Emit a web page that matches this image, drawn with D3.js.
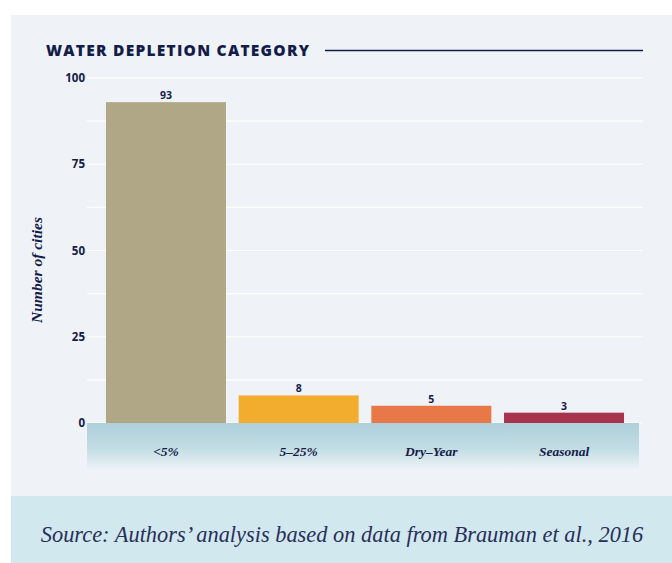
<!DOCTYPE html>
<html><head><meta charset="utf-8">
<script src="https://cdn.jsdelivr.net/npm/d3@7"></script>
<style>body{margin:0;background:#fff}svg{display:block}</style>
</head><body>
<svg id="c" width="672" height="563"></svg>
<script>
const categories = ["<5%", "5–25%", "Dry–Year", "Seasonal"];
const values = [93, 8, 5, 3];
const colors = ["#b0a786", "#f2ad2e", "#e97848", "#a8334d"];
const yTicks = [0, 25, 50, 75, 100];
const gridTicks = [0, 12.5, 25, 37.5, 50, 62.5, 75, 87.5, 100];
const titleText = "WATER DEPLETION CATEGORY";
const yTitle = "Number of cities";
const sourceText = "Source: Authors’ analysis based on data from Brauman et al., 2016";

const navy = "#141c48";
const svg = d3.select("#c");
svg.append("rect").attr("x", 11).attr("y", 15).attr("width", 661).attr("height", 481).attr("fill", "#eff3f7");
svg.append("rect").attr("x", 11).attr("y", 496).attr("width", 661).attr("height", 67).attr("fill", "#d1e9ee");

const y = d3.scaleLinear().domain([0, 100]).range([423, 78]);
const x = d3.scaleBand().domain(categories).range([93.3, 636.7]).padding(0.0955);

// gridlines
svg.append("g").selectAll("line").data(gridTicks).join("line")
  .attr("x1", 87).attr("x2", 643).attr("y1", d => y(d)).attr("y2", d => y(d))
  .attr("stroke", "#ffffff").attr("stroke-width", 1.2);

// title
svg.append("text").attr("x", 46).attr("y", 55.5)
  .attr("font-family", "'Open Sans', sans-serif").attr("font-weight", 800).attr("font-size", 15.5)
  .attr("letter-spacing", 1.25).attr("fill", navy).text(titleText);
svg.append("line").attr("x1", 325).attr("x2", 643).attr("y1", 50.5).attr("y2", 50.5)
  .attr("stroke", navy).attr("stroke-width", 1.5);

// x axis band with gradient
const defs = svg.append("defs");
const g = defs.append("linearGradient").attr("id", "xg").attr("x1", 0).attr("x2", 0).attr("y1", 0).attr("y2", 1);
g.append("stop").attr("offset", "0%").attr("stop-color", "#aed0da");
g.append("stop").attr("offset", "55%").attr("stop-color", "#c3dde4");
g.append("stop").attr("offset", "100%").attr("stop-color", "#eef3f6");
svg.append("rect").attr("x", 87).attr("y", y(0)).attr("width", 552).attr("height", 47).attr("fill", "url(#xg)");

// bars
svg.append("g").selectAll("rect").data(values).join("rect")
  .attr("x", (d, i) => x(categories[i])).attr("width", x.bandwidth())
  .attr("y", d => y(d)).attr("height", d => y(0) - y(d))
  .attr("fill", (d, i) => colors[i]);

// value labels
svg.append("g").selectAll("text").data(values).join("text")
  .attr("x", (d, i) => x(categories[i]) + x.bandwidth() / 2).attr("y", d => y(d) - 3)
  .attr("text-anchor", "middle").attr("font-family", "'Open Sans', sans-serif").attr("font-weight", 700)
  .attr("font-size", 10.5).attr("fill", navy).text(d => d);

// y axis
const ya = svg.append("g").attr("transform", "translate(85,0)")
  .call(d3.axisLeft(y).tickValues(yTicks).tickSize(0).tickPadding(0));
ya.select(".domain").remove();
ya.selectAll("text").attr("font-family", "'Open Sans', sans-serif").attr("font-weight", 700)
  .attr("font-size", 11.5).attr("fill", navy);

// x axis labels
const xa = svg.append("g").attr("transform", `translate(0,${y(0)})`)
  .call(d3.axisBottom(x).tickSize(0).tickPadding(0));
xa.select(".domain").remove();
xa.selectAll("text").attr("dy", 0).attr("y", 33)
  .attr("font-family", "'Liberation Serif', serif").attr("font-style", "italic").attr("font-weight", 700)
  .attr("font-size", 13.5).attr("fill", navy);

// y title
svg.append("text").attr("transform", "translate(42,270) rotate(-90)").attr("text-anchor", "middle")
  .attr("font-family", "'Liberation Serif', serif").attr("font-style", "italic").attr("font-weight", 700)
  .attr("font-size", 15.5).attr("fill", navy).text(yTitle);

// source
svg.append("text").attr("x", 342).attr("y", 542).attr("text-anchor", "middle")
  .attr("font-family", "'Liberation Serif', serif").attr("font-style", "italic")
  .attr("font-size", 22.4).attr("fill", "#2a2f5a").text(sourceText);
</script>
</body></html>
